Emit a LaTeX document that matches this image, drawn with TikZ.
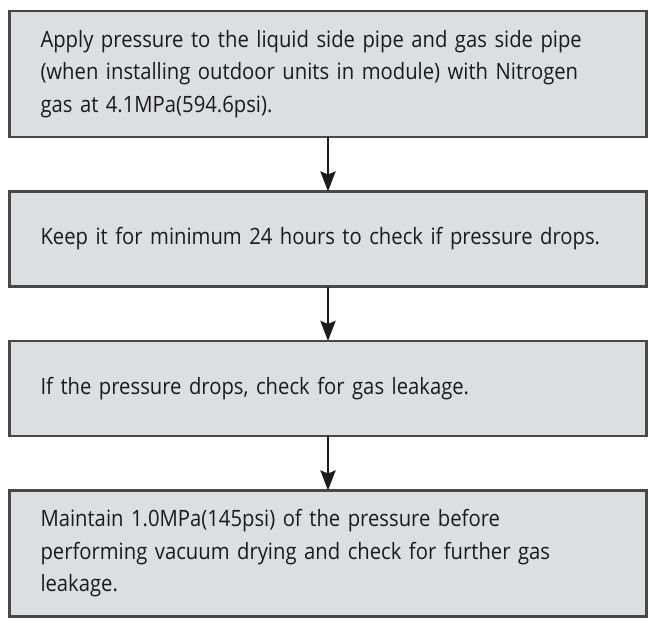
\documentclass[tikz,border=0pt]{standalone}
\usepackage{fontspec}
\setmainfont{Open Sans}[FakeStretch=0.9]
\usetikzlibrary{positioning,arrows.meta}
\definecolor{StepFill}{RGB}{220,222,224}
\definecolor{StepBorder}{RGB}{72,72,72}
\definecolor{StepText}{RGB}{28,26,27}
\definecolor{FlowArrow}{RGB}{28,28,28}

\begin{document}
\begin{tikzpicture}
			\tikzstyle{stepbox}=[draw=StepBorder, fill=StepFill, line width=2.4pt, outer sep=0pt, shape=rectangle, text=StepText, text width=575pt, inner xsep=31pt, inner ysep=0pt, minimum height=95pt, align=left, font=\fontsize{22.5}{32.5}\selectfont];
			\tikzstyle{tallbox}=[stepbox, minimum height=126pt];
			\tikzstyle{flow}=[draw=FlowArrow, line width=2.8pt, -{Stealth[length=20pt, width=15pt, inset=3pt]}];
			\useasboundingbox [fill=white] (0, 0) rectangle (650pt, -623pt);
			\node [tallbox] (pressurize) at (328pt, -74pt) {Apply pressure to the liquid side pipe and gas side pipe\\(when installing outdoor units in module) with Nitrogen\\gas at 4.1MPa(594.6psi).};
			\node [stepbox, below=54.5pt of pressurize] (hold) {Keep it for minimum 24 hours to check if pressure drops.};
			\node [stepbox, below=54.5pt of hold] (leakcheck) {If the pressure drops, check for gas leakage.};
			\node [tallbox, below=54.5pt of leakcheck] (maintain) {Maintain 1.0MPa(145psi) of the pressure before\\performing vacuum drying and check for further gas\\leakage.};
			\draw [flow] (pressurize) -- (hold);
			\draw [flow] (hold) -- (leakcheck);
			\draw [flow] (leakcheck) -- (maintain);
		\end{tikzpicture}
\end{document}
